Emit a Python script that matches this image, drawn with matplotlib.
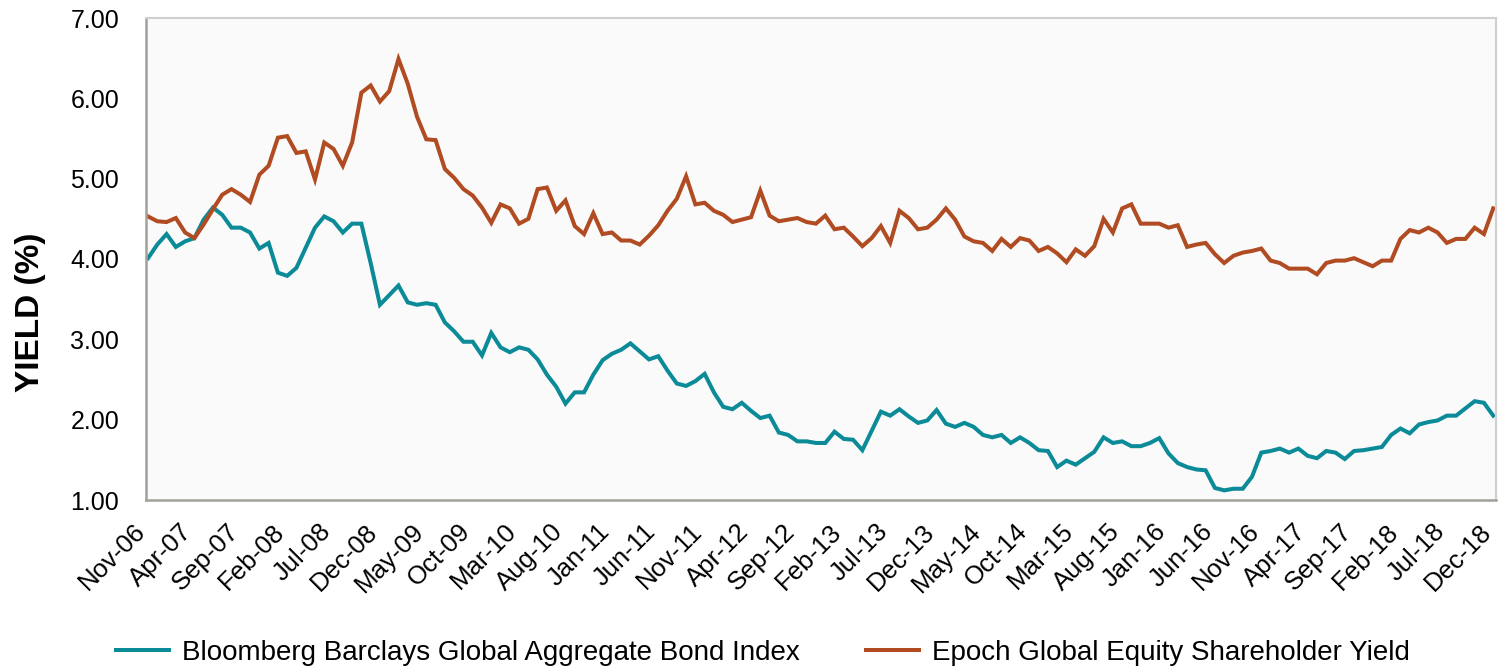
import numpy as np
import pandas as pd
import matplotlib
matplotlib.use("Agg")
import matplotlib.pyplot as plt
import matplotlib.transforms as mtransforms

plt.rcParams['font.family'] = ['Liberation Sans', 'DejaVu Sans']

# Monthly yields, Nov-06 .. Dec-18
months = pd.date_range('2006-11-01', '2018-12-01', freq='MS')
month_labels = [d.strftime('%b-%y') for d in months]

bond_yield = [
    4.01, 4.18, 4.31, 4.15, 4.22, 4.26, 4.49, 4.64, 4.55, 4.39,
    4.39, 4.33, 4.13, 4.20, 3.83, 3.79, 3.89, 4.14, 4.39, 4.53,
    4.47, 4.33, 4.44, 4.44, 3.95, 3.43, 3.55, 3.67, 3.46, 3.43,
    3.45, 3.43, 3.21, 3.10, 2.97, 2.97, 2.80, 3.08, 2.90, 2.84,
    2.90, 2.87, 2.75, 2.56, 2.41, 2.20, 2.34, 2.34, 2.56, 2.74,
    2.82, 2.87, 2.95, 2.85, 2.75, 2.79, 2.61, 2.45, 2.42, 2.48,
    2.57, 2.34, 2.16, 2.13, 2.21, 2.11, 2.02, 2.05, 1.84, 1.81,
    1.73, 1.73, 1.71, 1.71, 1.85, 1.76, 1.75, 1.62, 1.86, 2.10,
    2.05, 2.13, 2.04, 1.96, 1.99, 2.12, 1.95, 1.91, 1.96, 1.91,
    1.81, 1.78, 1.81, 1.71, 1.78, 1.71, 1.62, 1.61, 1.41, 1.49,
    1.44, 1.52, 1.60, 1.78, 1.71, 1.73, 1.67, 1.67, 1.71, 1.77,
    1.58, 1.46, 1.41, 1.38, 1.37, 1.15, 1.12, 1.14, 1.14, 1.29,
    1.59, 1.61, 1.64, 1.59, 1.64, 1.55, 1.52, 1.61, 1.59, 1.51,
    1.61, 1.62, 1.64, 1.66, 1.81, 1.89, 1.83, 1.94, 1.97, 1.99,
    2.05, 2.05, 2.14, 2.23, 2.21, 2.05,
]

equity_yield = [
    4.53, 4.47, 4.46, 4.51, 4.33, 4.26, 4.43, 4.62, 4.80, 4.87,
    4.80, 4.71, 5.05, 5.16, 5.51, 5.53, 5.32, 5.34, 4.99, 5.45,
    5.37, 5.16, 5.45, 6.07, 6.16, 5.96, 6.09, 6.49, 6.18, 5.77,
    5.49, 5.48, 5.12, 5.01, 4.87, 4.79, 4.64, 4.45, 4.68, 4.63,
    4.44, 4.50, 4.87, 4.89, 4.60, 4.73, 4.41, 4.31, 4.57, 4.31,
    4.33, 4.23, 4.23, 4.18, 4.29, 4.42, 4.60, 4.75, 5.03, 4.68,
    4.70, 4.60, 4.55, 4.46, 4.49, 4.52, 4.85, 4.54, 4.47, 4.49,
    4.51, 4.46, 4.44, 4.54, 4.37, 4.39, 4.28, 4.16, 4.26, 4.41,
    4.20, 4.60, 4.51, 4.37, 4.39, 4.49, 4.63, 4.49, 4.28, 4.22,
    4.20, 4.10, 4.25, 4.15, 4.26, 4.23, 4.10, 4.15, 4.07, 3.96,
    4.12, 4.04, 4.16, 4.50, 4.33, 4.63, 4.68, 4.44, 4.44, 4.44,
    4.39, 4.42, 4.15, 4.18, 4.20, 4.06, 3.95, 4.04, 4.08, 4.10,
    4.13, 3.98, 3.95, 3.88, 3.88, 3.88, 3.81, 3.95, 3.98, 3.98,
    4.01, 3.96, 3.91, 3.98, 3.98, 4.25, 4.36, 4.33, 4.39, 4.33,
    4.20, 4.25, 4.25, 4.39, 4.31, 4.63,
]

series_names = ['Bloomberg Barclays Global Aggregate Bond Index',
                'Epoch Global Equity Shareholder Yield']
colors = ['#0B8A97', '#B04B22']

x = np.arange(len(months))

fig = plt.figure(figsize=(15.05, 6.68), dpi=100)
ax = fig.add_axes([145.5 / 1505, 1 - 500 / 668, (1496 - 145.5) / 1505, (500 - 18) / 668])
ax.set_facecolor('#FAFAFA')

ax.plot(x, bond_yield, color=colors[0], lw=2.9, label=series_names[0], solid_joinstyle='miter')
ax.plot(x, equity_yield, color=colors[1], lw=2.9, label=series_names[1], solid_joinstyle='miter')

ax.set_xlim(-0.27, 145.3)
ax.set_ylim(1, 7)
ax.set_yticks(np.arange(1, 8))
ax.set_yticklabels([f'{v:.2f}' for v in range(1, 8)], fontsize=18)

tick_pos = x[::5]
ax.set_xticks(tick_pos)
ax.set_xticklabels([month_labels[i] for i in tick_pos], rotation=45,
                   ha='right', va='center', rotation_mode='anchor', fontsize=18.5)
ax.tick_params(axis='both', length=0)
ax.tick_params(axis='y', pad=19)
ax.tick_params(axis='x', pad=20)

# nudge the rotated month labels a little to the left
shift = mtransforms.ScaledTranslation(-6 / 100, 0, fig.dpi_scale_trans)
for lbl in ax.get_xticklabels():
    lbl.set_transform(lbl.get_transform() + shift)

ax.set_ylabel('YIELD (%)', fontsize=24, fontweight='bold')
ax.yaxis.set_label_coords(-0.074, 0.39)

for side in ['left', 'bottom']:
    ax.spines[side].set_color('#A3A09A')
    ax.spines[side].set_linewidth(1.8)
for side in ['top', 'right']:
    ax.spines[side].set_color('#CFCFCF')
    ax.spines[side].set_linewidth(1.5)

fig.legend(loc='lower center', bbox_to_anchor=(0.507, -0.034), ncol=2, frameon=False,
           fontsize=20, handlelength=1.9, handletextpad=0.47, columnspacing=2.4)

fig.savefig('out.png', dpi=100)
